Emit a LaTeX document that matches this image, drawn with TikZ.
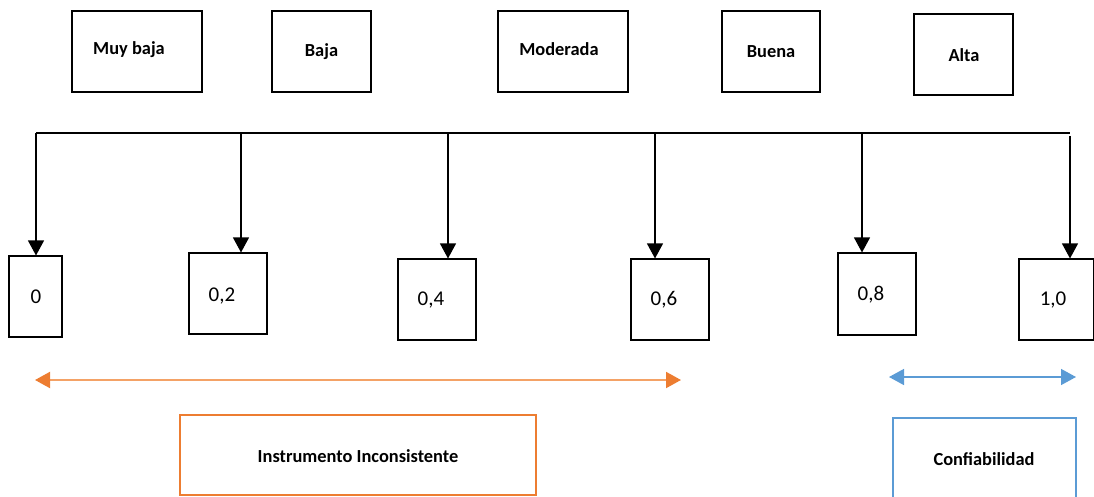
\documentclass[tikz,border=0pt]{standalone}
\usepackage{fontspec}
\setmainfont{Carlito}
\usetikzlibrary{arrows.meta}
\definecolor{orng}{HTML}{ED7D31}
\definecolor{orngl}{HTML}{F4A266}
\definecolor{blu}{HTML}{5B9BD5}
\begin{document}
\begin{tikzpicture}[x=1pt,y=-1pt,
  box/.style={draw=black,line width=1.1pt,inner sep=0pt,rectangle},
  lbl/.style={font=\fontsize{18.4}{20}\selectfont\bfseries,inner sep=0pt},
  num/.style={font=\fontsize{21}{24}\selectfont,inner sep=0pt},
  drop/.style={line width=1.1pt,-{Triangle[length=15pt,width=16pt]}},
  orbox/.style={draw=orng,line width=2pt,inner sep=0pt,rectangle},
  blbox/.style={draw=blu,line width=2pt,inner sep=0pt,rectangle},
  orarr/.style={draw=orngl,line width=2pt,{Triangle[length=15pt,width=16pt,fill=orng,color=orng]}-{Triangle[length=15pt,width=16pt,fill=orng,color=orng]}},
  blarr/.style={draw=blu,line width=1.5pt,{Triangle[length=15pt,width=16pt]}-{Triangle[length=15pt,width=16pt]}}]
\useasboundingbox (0,0) rectangle (1094,497);
% top category boxes
\node[box,minimum width=130,minimum height=81] (mb) at (137,51.5) {};
\node[lbl] (tmb) at (129,50) {Muy baja};
\node[box,minimum width=99,minimum height=81] (ba) at (321.5,51.5) {};
\node[lbl] (tba) at (321.5,52) {Baja};
\node[box,minimum width=130,minimum height=81] (mo) at (563,51.5) {};
\node[lbl] (tmo) at (559,49) {Moderada};
\node[box,minimum width=98,minimum height=81] (bu) at (771,51.5) {};
\node[lbl] (tbu) at (771,52) {Buena};
\node[box,minimum width=99,minimum height=81] (al) at (963.5,54.5) {};
\node[lbl] (tal) at (964,55) {Alta};
% bottom value boxes
\node[box,minimum width=53,minimum height=81] (v0) at (35.5,296.5) {};
\node[num] (t0) at (36,297) {0};
\node[box,minimum width=78,minimum height=81] (v2) at (228,293.5) {};
\node[num] (t2) at (222,296) {0,2};
\node[box,minimum width=78,minimum height=81] (v4) at (437,299.5) {};
\node[num] (t4) at (431,300) {0,4};
\node[box,minimum width=78,minimum height=81] (v6) at (670,299.5) {};
\node[num] (t6) at (664,300) {0,6};
\node[box,minimum width=78,minimum height=82] (v8) at (877,294) {};
\node[num] (t8) at (871,295) {0,8};
\node[box,minimum width=75,minimum height=81] (v10) at (1056.5,299.5) {};
\node[num] (t10) at (1053,300) {1,0};
% bus line
\coordinate (L) at (36,133);
\coordinate (R) at (1070,133);
\draw[line width=1.1pt] (L) -- (R);
\coordinate (d0) at (36,133);
\coordinate (d2) at (241,133);
\coordinate (d4) at (448,133);
\coordinate (d6) at (655,133);
\coordinate (d8) at (862,133);
\coordinate (d10) at (1070,136);
\draw[drop] (d0) -- (d0 |- v0.north);
\draw[drop] (d2) -- (d2 |- v2.north);
\draw[drop] (d4) -- (d4 |- v4.north);
\draw[drop] (d6) -- (d6 |- v6.north);
\draw[drop] (d8) -- (d8 |- v8.north);
\draw[drop] (d10) -- (d10 |- v10.north);
% range arrows
\coordinate (oa) at (35,380);
\coordinate (ob) at (681,380);
\draw[orarr] (oa) -- (ob);
\coordinate (ba1) at (889,377);
\coordinate (ba2) at (1076,377);
\draw[blarr,color=blu] (ba1) -- (ba2);
% bottom boxes
\node[orbox,minimum width=356,minimum height=80] (inc) at (358,455) {};
\node[lbl] (tinc) at (358,456) {Instrumento Inconsistente};
\node[blbox,minimum width=183,minimum height=84] (con) at (984.5,460) {};
\node[lbl] (tcon) at (984,459) {Confiabilidad};
\end{tikzpicture}
\end{document}
